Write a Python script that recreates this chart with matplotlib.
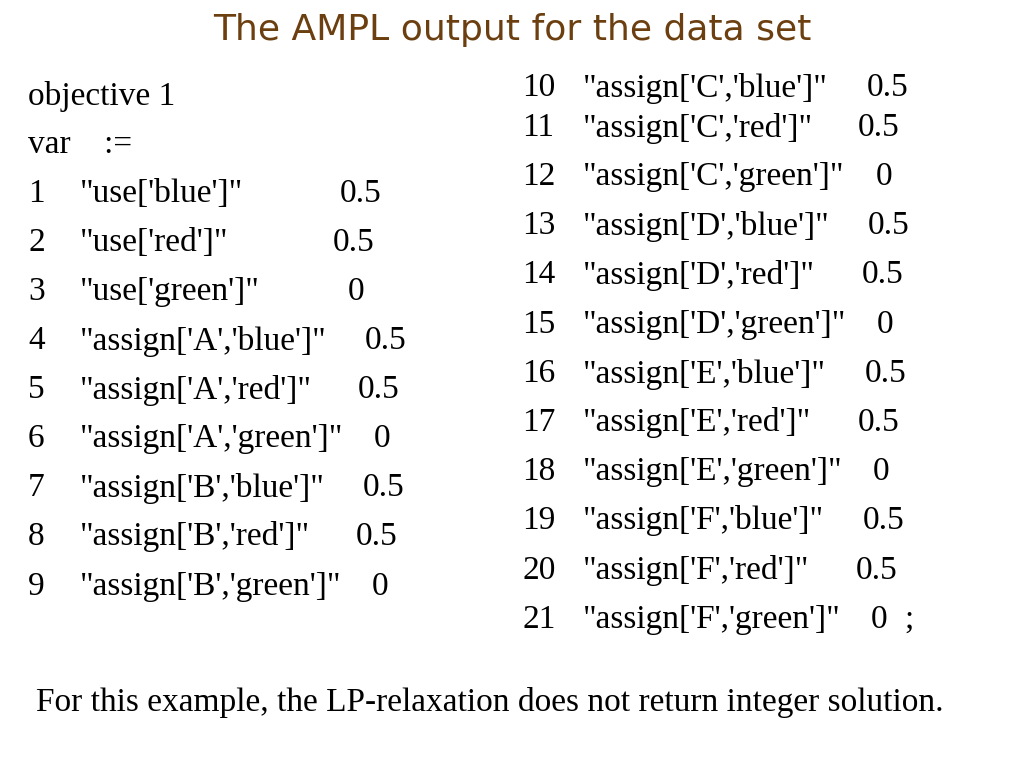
import matplotlib
matplotlib.use("Agg")
import matplotlib.pyplot as plt

title = "The AMPL output for the data set"
header = ["objective 1", "var    :="]
indices = list(range(1, 22))
names = ["use['blue']", "use['red']", "use['green']",
         "assign['A','blue']", "assign['A','red']", "assign['A','green']",
         "assign['B','blue']", "assign['B','red']", "assign['B','green']",
         "assign['C','blue']", "assign['C','red']", "assign['C','green']",
         "assign['D','blue']", "assign['D','red']", "assign['D','green']",
         "assign['E','blue']", "assign['E','red']", "assign['E','green']",
         "assign['F','blue']", "assign['F','red']", "assign['F','green']"]
values = ["0.5", "0.5", "0", "0.5", "0.5", "0", "0.5", "0.5", "0",
          "0.5", "0.5", "0", "0.5", "0.5", "0", "0.5", "0.5", "0", "0.5", "0.5", "0"]
footer = "For this example, the LP-relaxation does not return integer solution."

W, H = 1024, 768
fig = plt.figure(figsize=(W/100, H/100), dpi=100)
serif = "Liberation Serif"
fs = 24

def put(x, y, s, **kw):
    kw.setdefault("family", serif)
    kw.setdefault("fontsize", fs)
    fig.text(x/W, 1 - y/H, s, va="center", ha=kw.pop("ha", "left"), **kw)

put(512, 30, title, ha="center", family="DejaVu Sans", fontsize=26, color="#6b3f10")
put(28, 96, header[0])
put(28, 145, header[1])

left_y = [194, 243, 292, 341, 390, 439, 488, 537, 587]
left_vx = [340, 333, 348, 365, 358, 374, 363, 356, 372]
right_y = [88, 128, 177, 226, 275, 325, 374, 423, 472, 521, 571, 620]
right_vx = [867, 858, 876, 868, 862, 877, 865, 858, 873, 863, 856, 871]

for i in range(9):
    put(28, left_y[i], str(indices[i]))
    put(80, left_y[i], '"' + names[i] + '"')
    put(left_vx[i], left_y[i], values[i])
for j in range(12):
    i = j + 9
    put(522, right_y[j], str(indices[i]))
    put(583, right_y[j], '"' + names[i] + '"')
    put(right_vx[j], right_y[j], values[i])
put(904, 620, ";")

put(36, 702, footer)
fig.savefig("out.png", dpi=100)
